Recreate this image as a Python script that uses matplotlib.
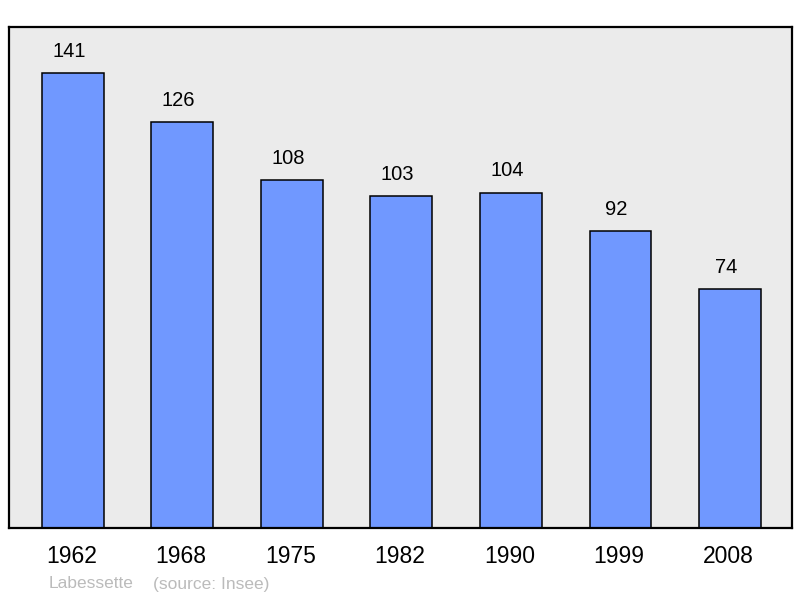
import matplotlib.pyplot as plt

plt.rcParams["font.family"] = ["Liberation Sans", "DejaVu Sans"]

years = ["1962", "1968", "1975", "1982", "1990", "1999", "2008"]
population = [141, 126, 108, 103, 104, 92, 74]
commune = "Labessette"
source = "(source: Insee)"

fig = plt.figure(figsize=(8, 5.98), dpi=100)
ax = fig.add_axes([0.01125, 0.117, 0.97875, 0.8378])
ax.set_facecolor("#ebebeb")

x = list(range(len(years)))
ax.bar(x, population, width=0.566, color="#7098ff", edgecolor="black",
       linewidth=1.1, zorder=2)

# value labels sit a little left of the bar centre, like the original
for xi, v in zip(x, population):
    ax.annotate(str(v), (xi, v), xytext=(-3, 15.5), textcoords="offset points",
                ha="center", va="center", fontsize=14.5, color="black")

ax.set_xlim(-0.584, 6.566)
ax.set_ylim(0, 155.3)
ax.set_xticks(x)
ax.set_xticklabels([])
for xi, yr in zip(x, years):
    ax.annotate(yr, (xi, 0), xytext=(-1, -20.5), textcoords="offset points",
                ha="center", va="center", fontsize=16.5, color="black",
                annotation_clip=False)
ax.tick_params(axis="x", length=0)
ax.set_yticks([])
for s in ax.spines.values():
    s.set_linewidth(1.6)

fig.text(49 / 800, 1 - 584 / 598, commune, fontsize=12.5, color="#bbbbbb",
         va="center", ha="left")
fig.text(153 / 800, 1 - 584 / 598, source, fontsize=12.5, color="#bbbbbb",
         va="center", ha="left")

fig.savefig("out.png", dpi=100)
